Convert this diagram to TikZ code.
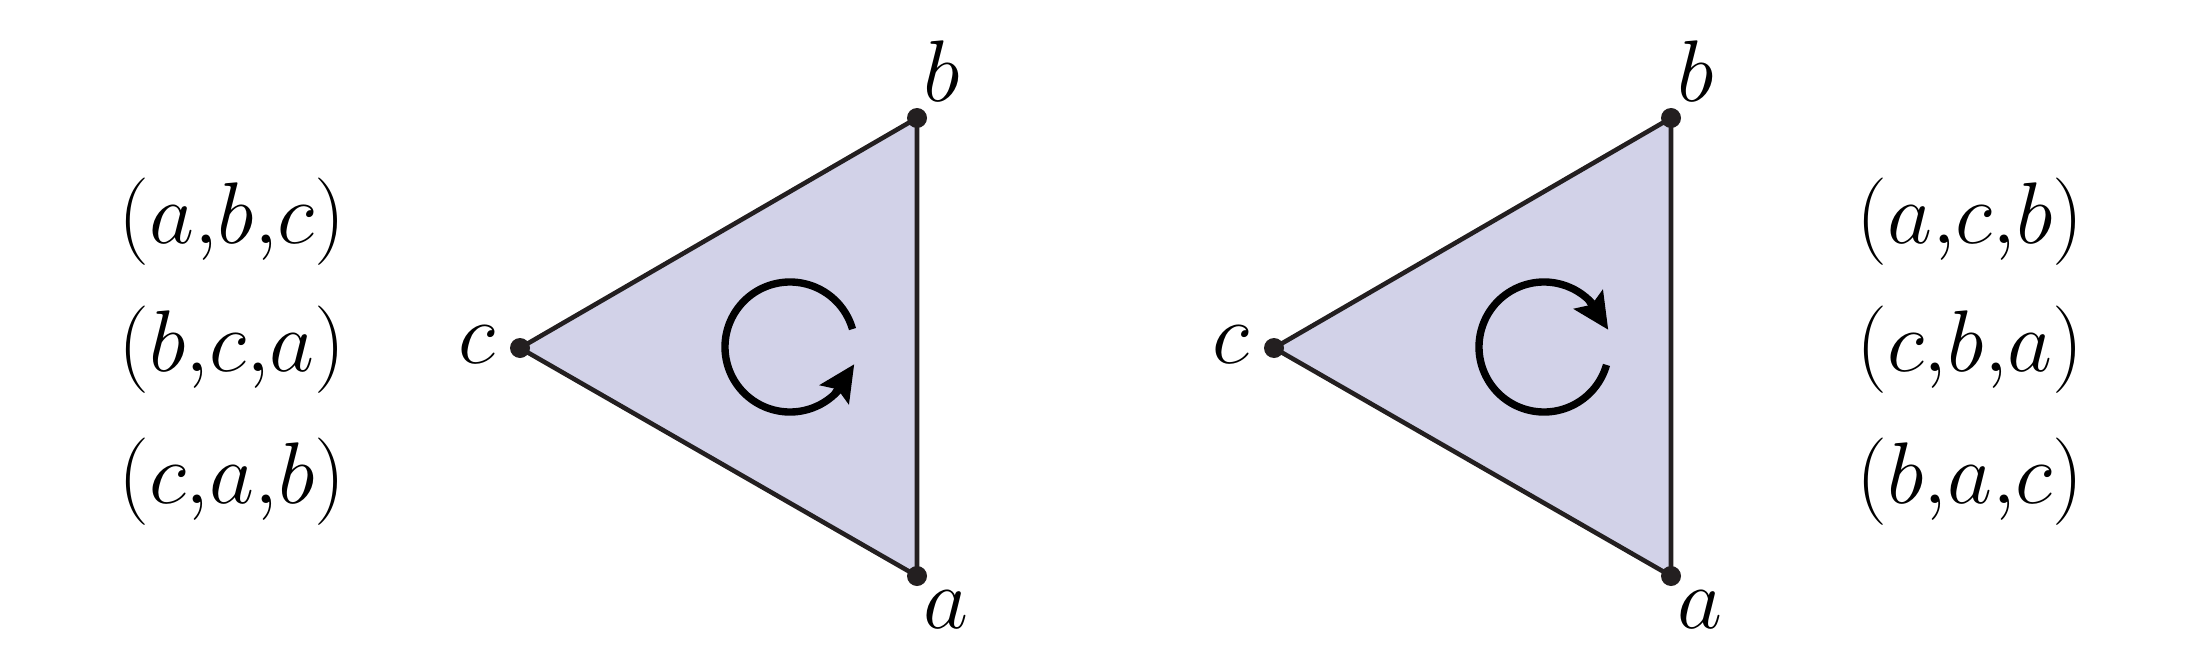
\documentclass[tikz,border=0pt]{standalone}
\usetikzlibrary{arrows.meta}
\definecolor{trifill}{RGB}{210,210,232}
\definecolor{edgecol}{RGB}{35,31,32}
\begin{document}
\begin{tikzpicture}[
  edge/.style={draw=edgecol, line width=1.3pt, line join=round},
  vdot/.style={circle, fill=edgecol, inner sep=0pt, minimum size=0.2cm},
  vlabel/.style={font=\fontsize{25}{29}\selectfont, inner sep=0pt},
  perm/.style={font=\fontsize{25.5}{30}\selectfont, inner sep=0pt},
  rotarc/.style={line width=2.1pt},
  rothead/.style={line width=2.1pt, -{Stealth[length=0.36cm,width=0.34cm,inset=0.06cm]}}
]
\useasboundingbox (0,0) rectangle (22.09,6.46);
% left triangle
\coordinate (Lb) at (9.17,5.28);
\coordinate (La) at (9.17,0.70);
\coordinate (Lc) at (5.20,2.98);
\fill[trifill] (Lb) -- (La) -- (Lc) -- cycle;
\draw[edge] (Lb) -- (La) -- (Lc) -- cycle;
\node[vdot] (Lbd) at (Lb) {};
\node[vdot] (Lad) at (La) {};
\node[vdot] (Lcd) at (Lc) {};
\node[vlabel] (Lbl) at (9.42,5.75) {$b$};
\node[vlabel] (Lal) at (9.46,0.36) {$a$};
\node[vlabel] (Lcl) at (4.77,3.01) {$c$};
\coordinate (Lo) at (7.90,2.99);
\draw[rotarc] ([shift={(16:0.65)}]Lo) arc[start angle=16, end angle=318, radius=0.65];
\draw[rothead] ([shift={(313:0.65)}]Lo) -- ([shift={(345:0.665)}]Lo);
% right triangle
\coordinate (Rb) at (16.71,5.28);
\coordinate (Ra) at (16.71,0.70);
\coordinate (Rc) at (12.74,2.98);
\fill[trifill] (Rb) -- (Ra) -- (Rc) -- cycle;
\draw[edge] (Rb) -- (Ra) -- (Rc) -- cycle;
\node[vdot] (Rbd) at (Rb) {};
\node[vdot] (Rad) at (Ra) {};
\node[vdot] (Rcd) at (Rc) {};
\node[vlabel] (Rbl) at (16.96,5.75) {$b$};
\node[vlabel] (Ral) at (17.00,0.36) {$a$};
\node[vlabel] (Rcl) at (12.31,3.01) {$c$};
\coordinate (Ro) at (15.44,2.99);
\draw[rotarc] ([shift={(-16:0.65)}]Ro) arc[start angle=-16, end angle=-318, radius=0.65];
\draw[rothead] ([shift={(-313:0.65)}]Ro) -- ([shift={(-345:0.665)}]Ro);
% permutations
\node[perm] (p1) at (2.32,4.24) {$(a{,}b{,}c)$};
\node[perm] (p2) at (2.32,2.96) {$(b{,}c{,}a)$};
\node[perm] (p3) at (2.32,1.64) {$(c{,}a{,}b)$};
\node[perm] (q1) at (19.70,4.24) {$(a{,}c{,}b)$};
\node[perm] (q2) at (19.70,2.96) {$(c{,}b{,}a)$};
\node[perm] (q3) at (19.70,1.64) {$(b{,}a{,}c)$};
\end{tikzpicture}
\end{document}
